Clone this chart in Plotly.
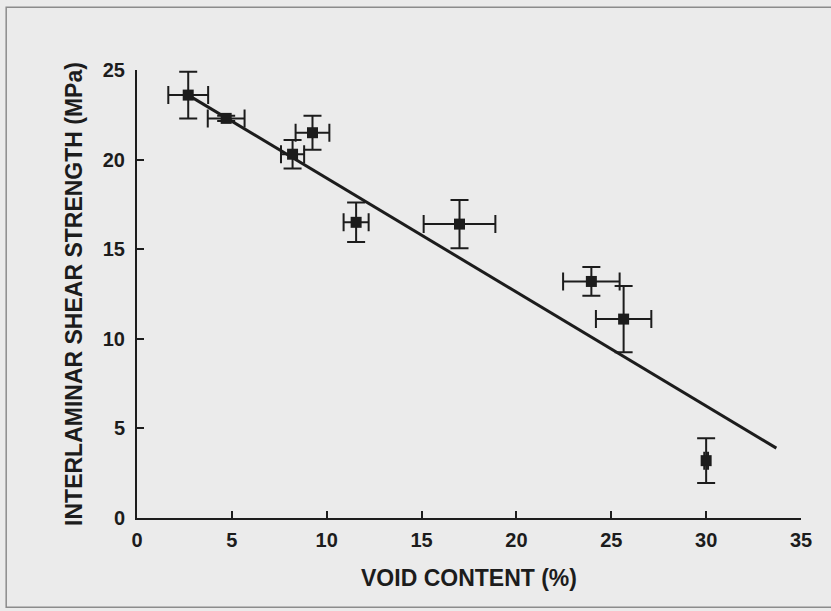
import plotly.graph_objects as go

# Void content (%) vs interlaminar shear strength (MPa), with scatter in both
void_content = [2.7, 4.7, 8.2, 9.25, 11.55, 17.0, 23.95, 25.65, 30.0]
void_err = [1.05, 0.97, 0.61, 0.89, 0.66, 1.89, 1.49, 1.46, 0.1]
ilss = [23.6, 22.3, 20.3, 21.5, 16.5, 16.4, 13.2, 11.1, 3.2]
ilss_err = [1.3, 0.15, 0.8, 0.95, 1.1, 1.35, 0.8, 1.85, 1.25]

# Linear trend line, end points
fit_x = [2.7, 33.7]
fit_y = [23.6, 3.9]

x_ticks = [0, 5, 10, 15, 20, 25, 30, 35]
y_ticks = [0, 5, 10, 15, 20, 25]

ink = "#1c1c1c"
paper_bg = "#ebebeb"
font_family = "Liberation Sans, Arial, Helvetica, sans-serif"

fig = go.Figure()

fig.add_trace(go.Scatter(
    x=fit_x, y=fit_y, mode="lines",
    line=dict(color=ink, width=3),
    showlegend=False, hoverinfo="skip",
))

fig.add_trace(go.Scatter(
    x=void_content, y=ilss, mode="markers",
    marker=dict(symbol="square", size=11, color=ink),
    error_x=dict(type="data", array=void_err, visible=True,
                 color=ink, thickness=2, width=9),
    error_y=dict(type="data", array=ilss_err, visible=True,
                 color=ink, thickness=2, width=9),
    showlegend=False,
))

axis_common = dict(
    showgrid=False, zeroline=False,
    showline=True, linecolor=ink, linewidth=2,
    ticks="inside", ticklen=7, tickwidth=2, tickcolor=ink,
    tickfont=dict(family=font_family, size=20, color=ink, weight="bold"),
    title_font=dict(family=font_family, size=23, color=ink, weight="bold"),
)

fig.update_xaxes(
    range=[0, 35], tickvals=x_ticks, ticktext=[str(v) for v in x_ticks],
    title_text="VOID CONTENT (%)", title_standoff=20,
    ticklabelstandoff=3,
    **axis_common,
)
fig.update_yaxes(
    range=[0, 25], tickvals=y_ticks, ticktext=[str(v) for v in y_ticks],
    title_text="INTERLAMINAR SHEAR STRENGTH (MPa)", title_standoff=14,
    ticklabelstandoff=6,
    **axis_common,
)

# Outer frame around the figure
fig.add_shape(
    type="rect", xref="paper", yref="paper",
    x0=-0.197, x1=1.06, y0=-0.199, y1=1.14,
    line=dict(color="#8c8c8c", width=1.5), fillcolor="rgba(0,0,0,0)",
    layer="below",
)

fig.update_layout(
    width=831, height=611,
    margin=dict(l=137, r=30, t=70, b=93),
    paper_bgcolor=paper_bg, plot_bgcolor=paper_bg,
    font=dict(family=font_family, color=ink),
)

fig.write_html("out.html")
